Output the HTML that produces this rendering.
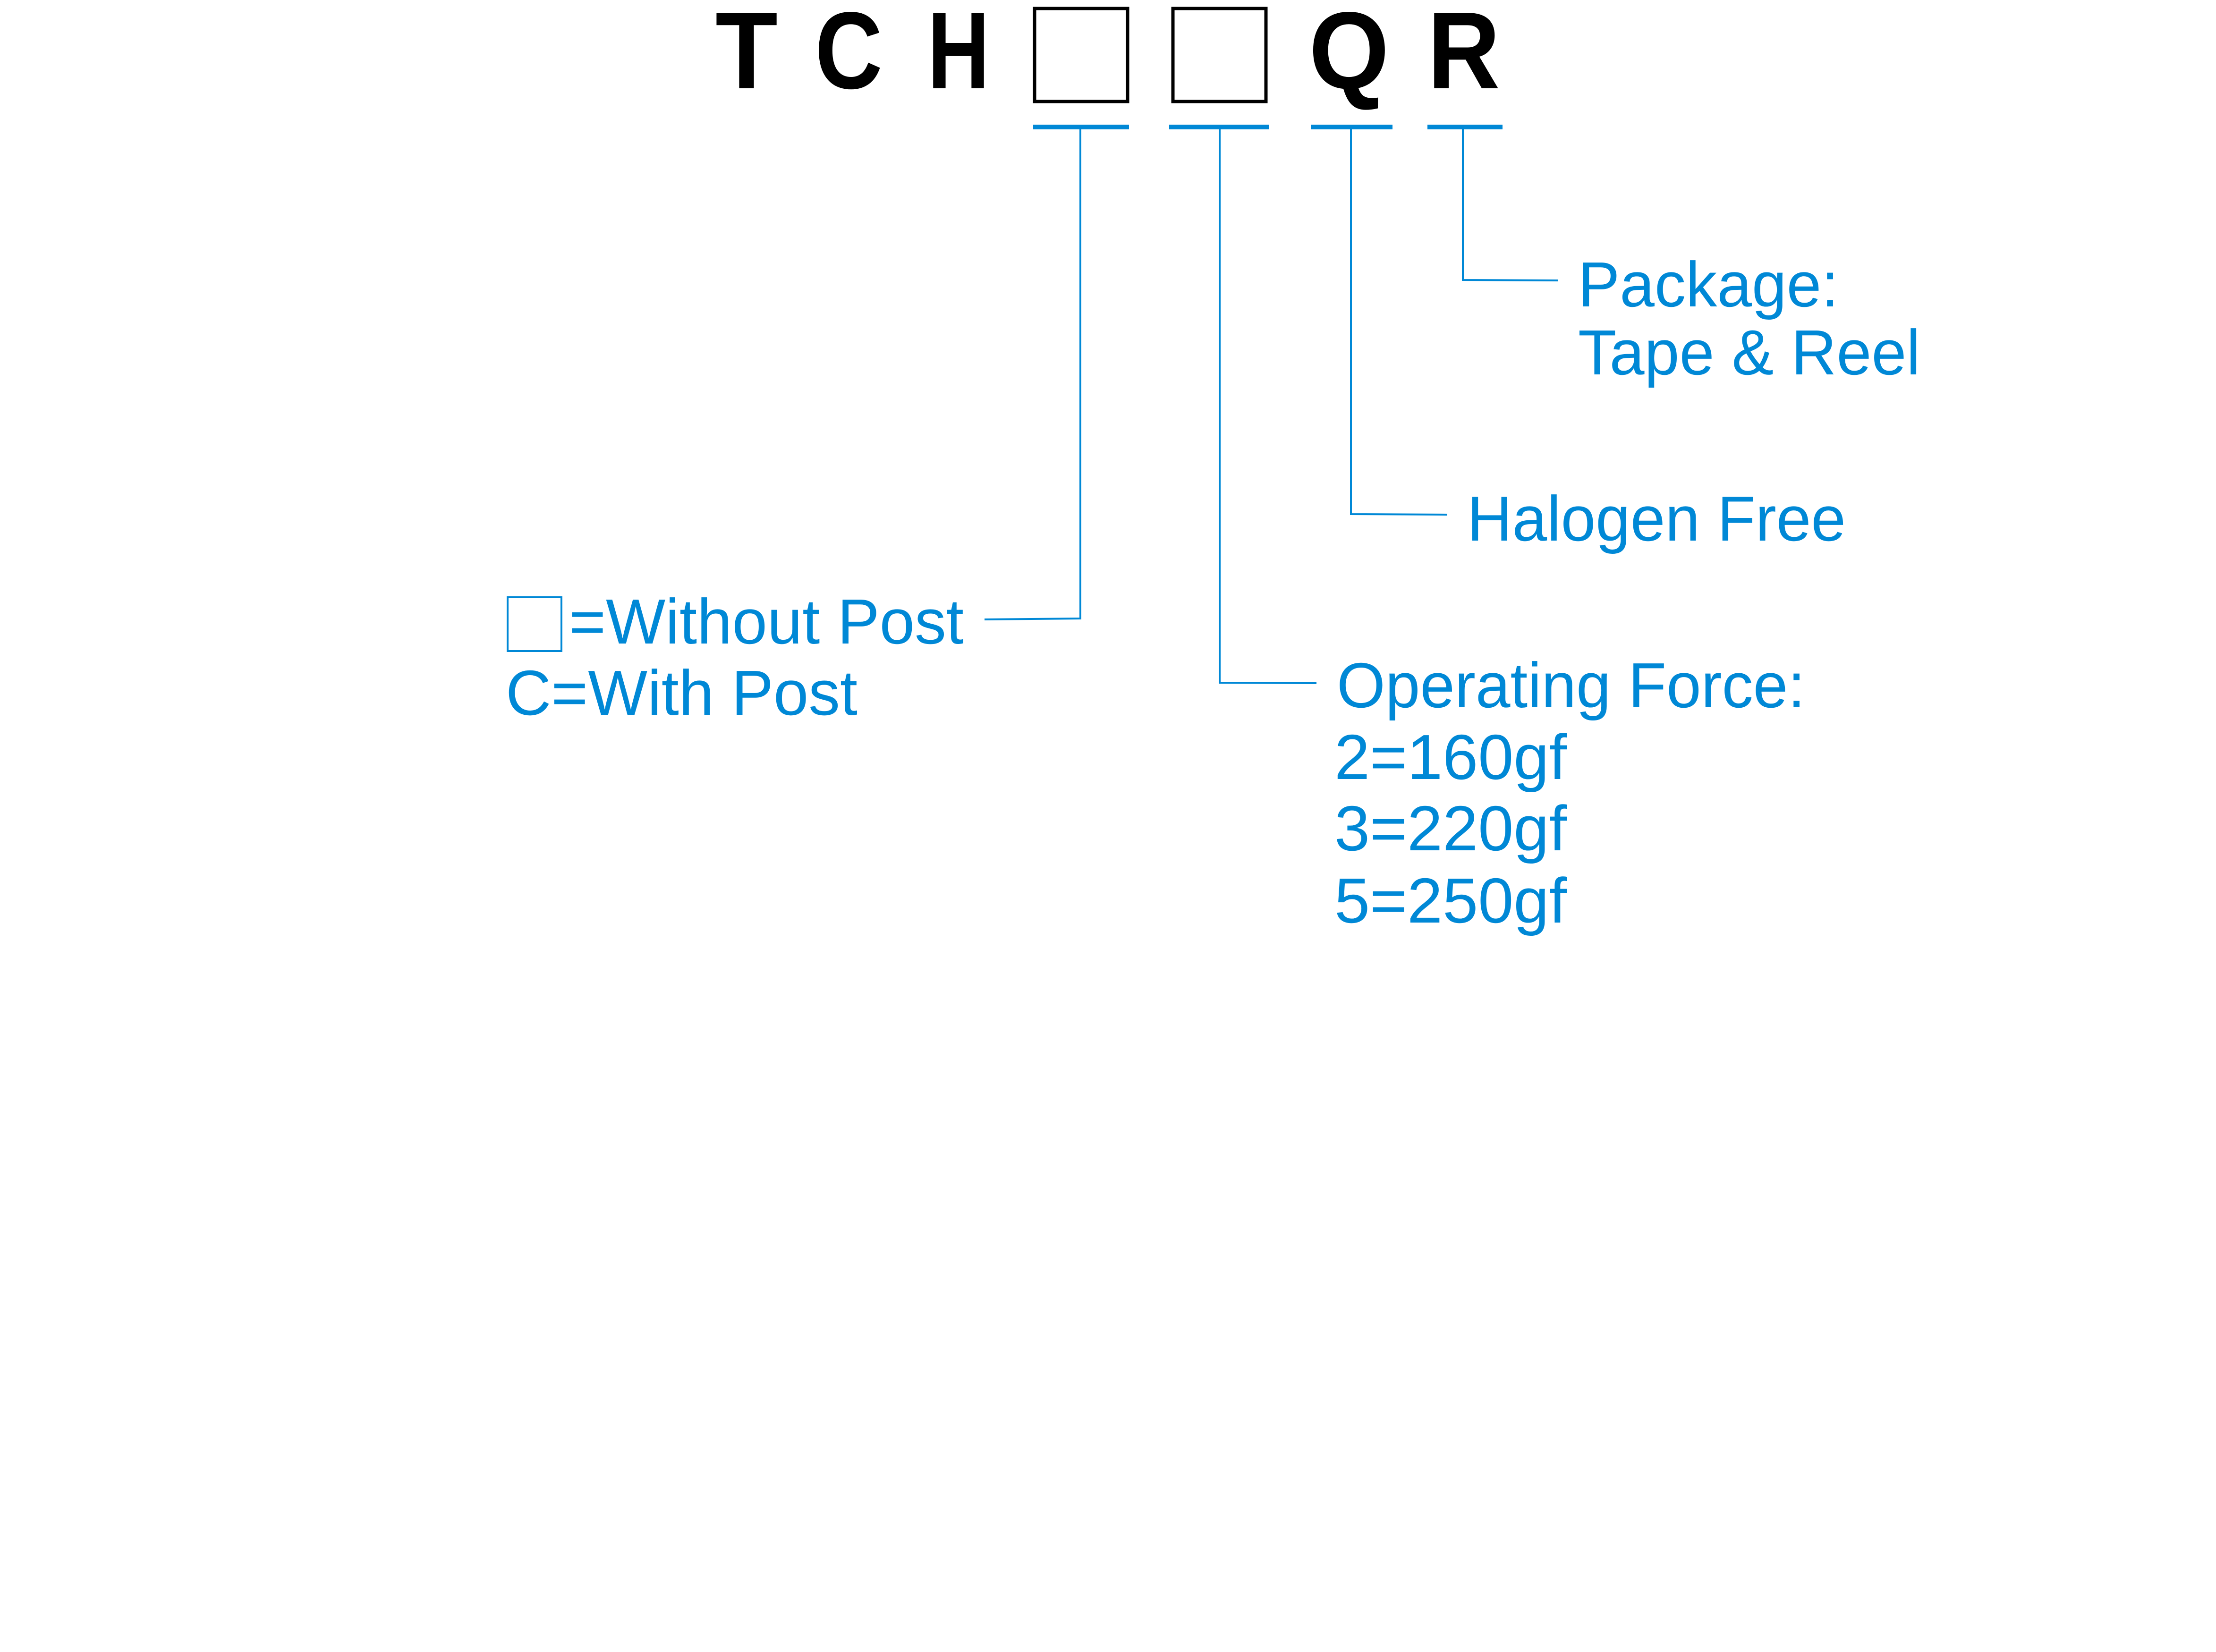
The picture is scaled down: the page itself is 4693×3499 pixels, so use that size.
<!DOCTYPE html>
<html><head><meta charset="utf-8"><style>html,body{margin:0;padding:0;background:#fff}svg{display:block}</style></head>
<body>
<svg width="4693" height="3499" viewBox="0 0 4693 3499" xmlns="http://www.w3.org/2000/svg">
<rect width="4693" height="3499" fill="#fff"/>
<g font-family="Liberation Sans, Arial, sans-serif" font-weight="bold" font-size="232" fill="#000">
<text x="1515" y="187" textLength="132" lengthAdjust="spacingAndGlyphs">T</text>
<text x="1726" y="187" textLength="143" lengthAdjust="spacingAndGlyphs">C</text>
<text x="1964" y="187" textLength="132" lengthAdjust="spacingAndGlyphs">H</text>
<text x="2772" y="187" textLength="170" lengthAdjust="spacingAndGlyphs">Q</text>
<text x="3023" y="187" textLength="154" lengthAdjust="spacingAndGlyphs">R</text>
</g>
<rect x="2191" y="18" width="197" height="197" fill="none" stroke="#000" stroke-width="7"/>
<rect x="2484" y="18" width="197" height="197" fill="none" stroke="#000" stroke-width="7"/>
<g fill="#0088d6">
<rect x="2188" y="264" width="203" height="10"/>
<rect x="2476" y="264" width="212" height="10"/>
<rect x="2776" y="264" width="173" height="10"/>
<rect x="3023" y="264" width="159" height="10"/>
</g>
<g stroke="#0088d6" stroke-width="4" fill="none">
<polyline points="2288,274 2288,1310 2085,1312"/>
<polyline points="2583,274 2583,1446 2788,1447"/>
<polyline points="2861,274 2861,1089 3065,1090"/>
<polyline points="3098,274 3098,593 3300,594"/>
</g>
<rect x="1075" y="1265" width="114" height="114" fill="none" stroke="#0088d6" stroke-width="4"/>
<g font-family="Liberation Sans, Arial, sans-serif" font-size="135" fill="#0088d6">
<text x="3342" y="649" textLength="552" lengthAdjust="spacingAndGlyphs">Package:</text>
<text x="3342" y="793" textLength="725" lengthAdjust="spacingAndGlyphs">Tape &amp; Reel</text>
<text x="3107" y="1145" textLength="802" lengthAdjust="spacingAndGlyphs">Halogen Free</text>
<text x="1205" y="1363" textLength="836" lengthAdjust="spacingAndGlyphs">=Without Post</text>
<text x="1071" y="1514" textLength="745" lengthAdjust="spacingAndGlyphs">C=With Post</text>
<text x="2831" y="1498" textLength="992" lengthAdjust="spacingAndGlyphs">Operating Force:</text>
<text x="2826" y="1650" textLength="492" lengthAdjust="spacingAndGlyphs">2=160gf</text>
<text x="2826" y="1801" textLength="492" lengthAdjust="spacingAndGlyphs">3=220gf</text>
<text x="2826" y="1954" textLength="492" lengthAdjust="spacingAndGlyphs">5=250gf</text>
</g>
</svg>
</body></html>
